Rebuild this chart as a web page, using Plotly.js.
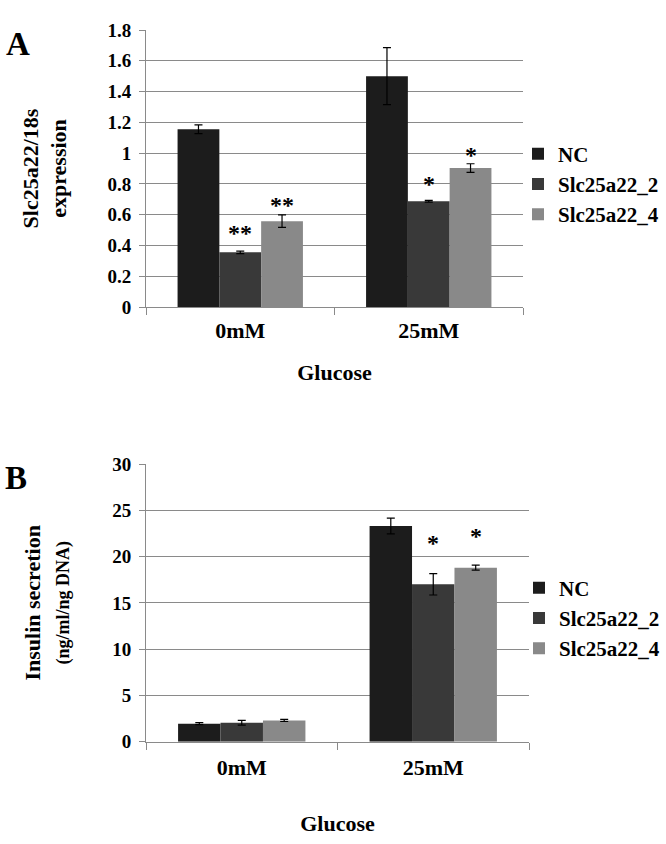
<!DOCTYPE html>
<html><head><meta charset="utf-8">
<script src="https://cdn.plot.ly/plotly-3.0.1.min.js"></script>
<style>html,body{margin:0;padding:0;background:#fff}#chart{width:666px;height:844px}</style>
</head><body><div id="chart"></div>
<script>
// ---- data ----
const categories = ['0mM', '25mM'];
const seriesNames = ['NC', 'Slc25a22_2', 'Slc25a22_4'];

const exprNC = [1.155, 1.50];
const exprNCErr = [0.028, 0.185];
const exprS2 = [0.355, 0.687];
const exprS2Err = [0.008, 0.006];
const exprS4 = [0.558, 0.903];
const exprS4Err = [0.04, 0.028];

const insNC = [1.95, 23.3];
const insNCErr = [0.1, 0.85];
const insS2 = [2.05, 17.0];
const insS2Err = [0.25, 1.15];
const insS4 = [2.3, 18.8];
const insS4Err = [0.12, 0.27];

const exprStarsS2 = ['**', '*'];
const exprStarsS4 = ['**', '*'];
const exprStarY_S2 = [0.513, 0.83];
const exprStarY_S4 = [0.695, 1.02];
const insStarsS2 = ['', '*'];
const insStarsS4 = ['', '*'];
const insStarY_S2 = [null, 21.96];
const insStarY_S4 = [null, 22.75];

// ---- style ----
const colors = ['#1c1c1c', '#393939', '#898989'];
const FONT = 'Liberation Serif';
const bargap = 0.335;
const gridColor = '#8a8a8a';
const W = 666, H = 844, MR = 0;
const px = p => p / (W - MR);          // horizontal pixel -> paper fraction
const py = p => 1 - p / H;             // vertical pixel -> paper fraction

function barTrace(name, y, err, color, xa, ya, legend, grp) {
  return {
    type: 'bar', name: '<b>' + name + '</b>',
    x: categories, y: y,
    xaxis: xa, yaxis: ya, legend: legend, legendgroup: grp,
    marker: {color: color, line: {width: 0}},
    error_y: {type: 'data', array: err, visible: true, color: '#000', thickness: 1.2, width: 4},
    hoverinfo: 'y'
  };
}

const data = [
  barTrace(seriesNames[0], exprNC, exprNCErr, colors[0], 'x', 'y', 'legend', 'a0'),
  barTrace(seriesNames[1], exprS2, exprS2Err, colors[1], 'x', 'y', 'legend', 'a1'),
  barTrace(seriesNames[2], exprS4, exprS4Err, colors[2], 'x', 'y', 'legend', 'a2'),
  barTrace(seriesNames[0], insNC, insNCErr, colors[0], 'x2', 'y2', 'legend2', 'b0'),
  barTrace(seriesNames[1], insS2, insS2Err, colors[1], 'x2', 'y2', 'legend2', 'b1'),
  barTrace(seriesNames[2], insS4, insS4Err, colors[2], 'x2', 'y2', 'legend2', 'b2'),
];

const annotations = [];
const w = (1 - bargap) / 3;
function addStars(texts, ys, k, xref, yref) {
  texts.forEach((t, i) => {
    if (!t) return;
    annotations.push({
      x: i + (k - 1) * w, y: ys[i], xref: xref, yref: yref,
      text: '<b>' + t + '</b>', showarrow: false, yanchor: 'middle', yshift: -5,
      font: {family: FONT, size: 24, color: '#000'}
    });
  });
}
addStars(exprStarsS2, exprStarY_S2, 1, 'x', 'y');
addStars(exprStarsS4, exprStarY_S4, 2, 'x', 'y');
addStars(insStarsS2, insStarY_S2, 1, 'x2', 'y2');
addStars(insStarsS4, insStarY_S4, 2, 'x2', 'y2');

annotations.push({xref: 'paper', yref: 'paper', x: px(4), y: py(44), xanchor: 'left', yanchor: 'middle',
  text: '<b>A</b>', showarrow: false, font: {family: FONT, size: 33, color: '#000'}});
annotations.push({xref: 'paper', yref: 'paper', x: px(3), y: py(478), xanchor: 'left', yanchor: 'middle',
  text: '<b>B</b>', showarrow: false, font: {family: FONT, size: 33, color: '#000'}});

const tickFont = {family: FONT, size: 19, color: '#000', weight: 'bold'};
const catFont = {family: FONT, size: 22, color: '#000', weight: 'bold'};

function xAxis(dom, anchor, standoffLab, titleStandoff) {
  return {
    domain: dom, anchor: anchor, type: 'category', automargin: false,
    showline: true, linecolor: gridColor, linewidth: 1,
    ticks: 'outside', ticklen: 7, tickcolor: gridColor, tickson: 'boundaries',
    tickfont: catFont, ticklabelstandoff: standoffLab, showgrid: false, zeroline: false,
    title: {text: 'Glucose', font: {family: FONT, size: 22, color: '#000', weight: 'bold'}, standoff: titleStandoff},
    fixedrange: true
  };
}
function yAxis(dom, anchor, range, dtick, title, standoff) {
  return {
    domain: dom, anchor: anchor, range: range, dtick: dtick, automargin: false,
    showline: true, linecolor: gridColor, linewidth: 1,
    ticks: 'outside', ticklen: 6, tickcolor: gridColor,
    showgrid: true, gridcolor: gridColor, gridwidth: 1, zeroline: false,
    tickfont: tickFont, ticklabelstandoff: 4,
    title: {text: title, font: {family: FONT, size: 22, color: '#000', weight: 'bold'}, standoff: standoff},
    fixedrange: true
  };
}

const layout = {
  width: W, height: H,
  margin: {l: 0, r: MR, t: 0, b: 0},
  paper_bgcolor: '#fff', plot_bgcolor: '#fff',
  barmode: 'group', bargap: bargap, bargroupgap: 0,
  showlegend: true,
  font: {family: FONT, color: '#000'},
  xaxis: xAxis([px(146), px(523)], 'y', 4, 22),
  yaxis: yAxis([py(307), py(30)], 'x', [0, 1.8], 0.2, 'Slc25a22/18s<br>expression', 34),
  xaxis2: xAxis([px(146), px(529)], 'y2', 6, 36),
  yaxis2: yAxis([py(741.7), py(464)], 'x2', [0, 30], 5,
    'Insulin secretion<br><span style="font-size:18px">(ng/ml/ng DNA)</span>', 36),
  legend: {x: px(664), y: py(184), xanchor: 'right', yanchor: 'middle',
    font: {family: FONT, size: 21, color: '#000', weight: 'bold'},
    traceorder: 'normal', tracegroupgap: 5, itemwidth: 30, bgcolor: 'rgba(0,0,0,0)'},
  legend2: {x: px(665), y: py(618), xanchor: 'right', yanchor: 'middle',
    font: {family: FONT, size: 21, color: '#000', weight: 'bold'},
    traceorder: 'normal', tracegroupgap: 6, itemwidth: 30, bgcolor: 'rgba(0,0,0,0)'},
  annotations: annotations
};

Plotly.newPlot('chart', data, layout, {displayModeBar: false, staticPlot: true});
</script></body></html>
